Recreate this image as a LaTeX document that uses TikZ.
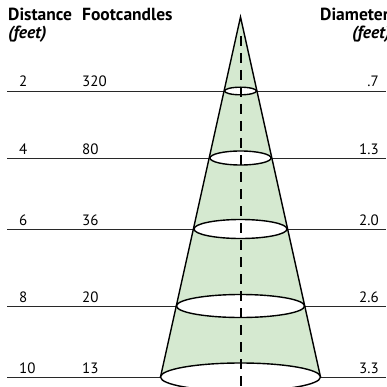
\documentclass[tikz,border=0pt]{standalone}
\usepackage{fontspec}
\setmainfont{PT Sans}
\definecolor{conegreen}{RGB}{213,233,208}
\definecolor{rulegray}{RGB}{40,40,40}
\begin{document}
\begin{tikzpicture}[x=1pt,y=-1pt,
  hdr/.style={font=\fontsize{17.5}{19}\selectfont\bfseries,anchor=base west,inner sep=0pt},
  unit/.style={font=\fontsize{17.5}{19}\selectfont\bfseries\itshape,anchor=base west,inner sep=0pt},
  num/.style={font=\fontsize{15}{17}\selectfont,anchor=base west,inner sep=0pt},
  rnum/.style={font=\fontsize{15}{17}\selectfont,anchor=base east,inner sep=0pt},
  rule/.style={draw=rulegray,line width=0.9pt},
  ring/.style={draw=black,fill=white,line width=1.4pt},
  axis/.style={draw=black,line width=2pt,dash pattern=on 10pt off 7pt}]
\useasboundingbox (0,0) rectangle (386,387);
\begin{scope}
\clip (0,0) rectangle (386,387);
% horizontal rules
\foreach \y/\n in {91/a,158/b,229/c,306/d,377/e}{
  \coordinate (L\n) at (7,\y);
  \coordinate (R\n) at (386,\y);
  \draw[rule] (L\n) -- (R\n);
}
% cone
\coordinate (apex) at (240.5,17);
\coordinate (bl) at (160.5,377);
\coordinate (br) at (320.5,377);
\fill[conegreen] (apex) -- (bl) -- (br) -- cycle;
\draw[black,line width=1.4pt,line join=miter] (bl) -- (apex) -- (br);
% ellipses
\draw[ring] (240.5,91) ellipse [x radius=16, y radius=3.8];
\draw[ring] (240.5,158) ellipse [x radius=30.5, y radius=7];
\draw[ring] (240.5,229) ellipse [x radius=46.5, y radius=9.5];
\draw[ring] (240.5,306) ellipse [x radius=64, y radius=11.5];
\draw[ring] (240.5,377) ellipse [x radius=80, y radius=14];
% axis
\coordinate (axtop) at (240.5,36);
\coordinate (axbot) at (240.5,392);
\draw[axis] (axtop) -- (axbot);
% headers
\node[hdr] (hd) at (8,21) {Distance};
\node[unit] (hdu) at (8,39) {(feet)};
\node[hdr] (hf) at (82,21) {Footcandles};
\node[hdr] (hm) at (320,21) {Diameter};
\node[unit] (hmu) at (352,39) {(feet)};
% numbers
\foreach \y/\d/\f/\m/\n in {87/2/320/.7/a,154/4/80/1.3/b,225/6/36/2.0/c,302/8/20/2.6/d,373/10/13/3.3/e}{
  \node[num] (d\n) at (19,\y) {\d};
  \node[num] (f\n) at (82,\y) {\f};
  \node[rnum] (m\n) at (379,\y) {\m};
}
\end{scope}
\end{tikzpicture}
\end{document}
